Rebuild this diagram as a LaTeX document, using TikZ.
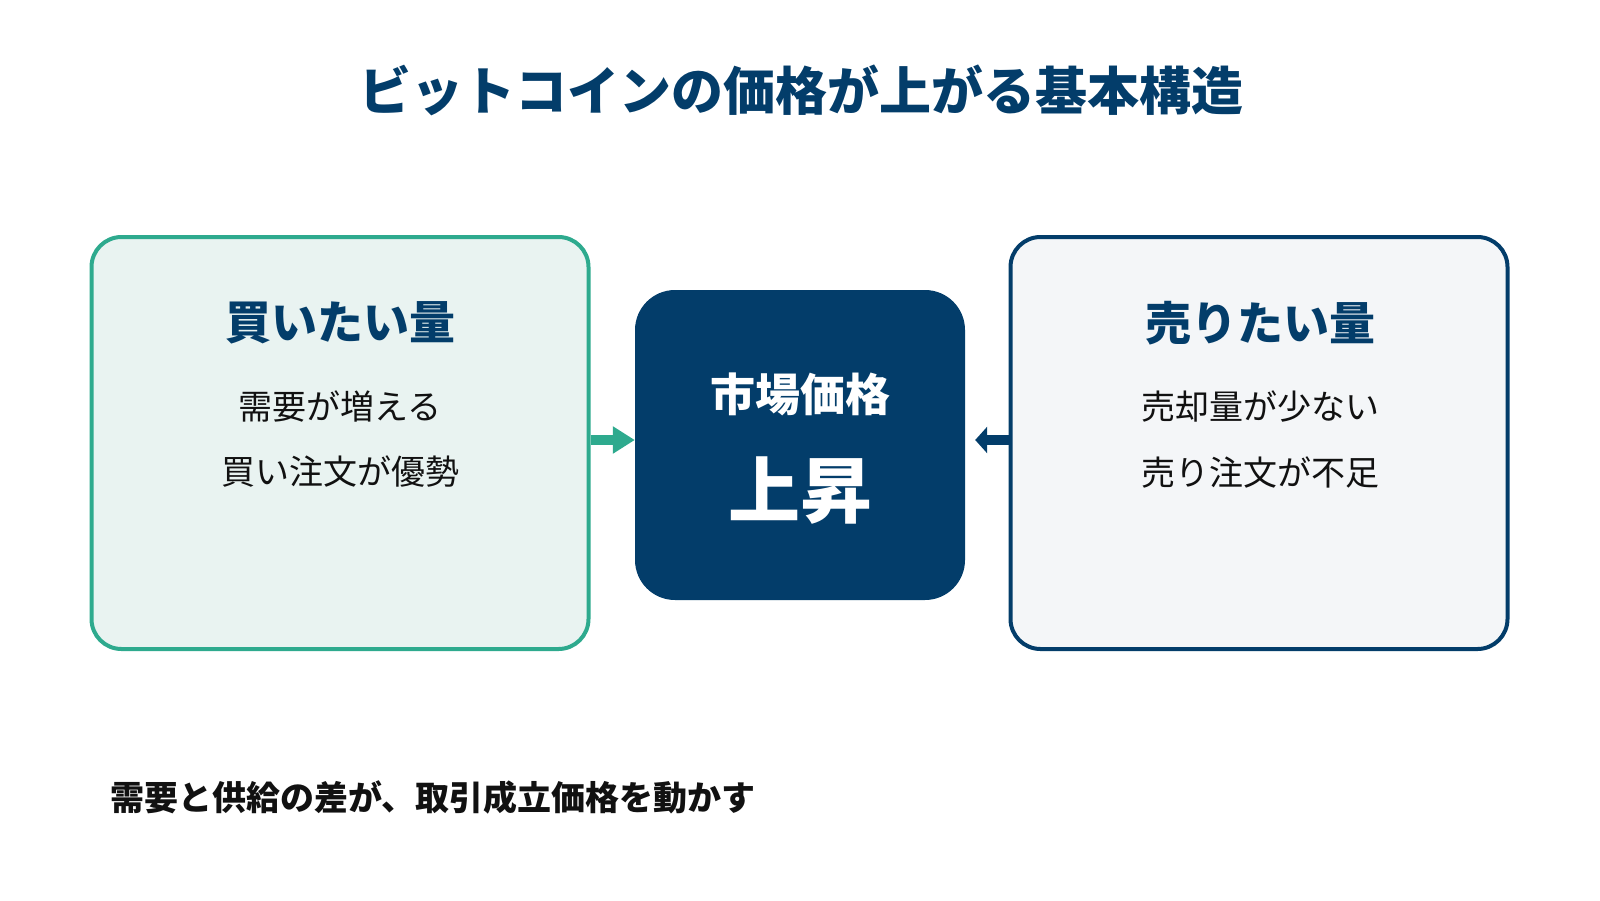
\documentclass[tikz,border=0pt]{standalone}
\usepackage{fontspec}
\setmainfont{Noto Sans CJK JP}
\usetikzlibrary{arrows.meta}

\definecolor{navy}{HTML}{033D6A}
\definecolor{teal}{HTML}{2EAA8E}
\definecolor{tealbg}{HTML}{E9F3F1}
\definecolor{greybg}{HTML}{F4F6F8}
\definecolor{ink}{HTML}{111111}

\newcommand{\fs}[1]{\fontsize{#1}{#1}\selectfont}

\tikzset{
  box/.style={rounded corners=30pt, line width=4pt, minimum width=497pt, minimum height=412pt},
  head/.style={font=\bfseries\fs{46}, text=navy},
  line/.style={font=\fs{34}, text=ink},
}

\begin{document}
\begin{tikzpicture}[x=1pt, y=-1pt, inner sep=0pt]
    \useasboundingbox (0, 0) rectangle (1600, 900);

    \node[font=\bfseries\fs{52}, text=navy] (title) at (801, 90) {ビットコインの価格が上がる基本構造};

    \node[box, draw=teal, fill=tealbg] (buy) at (340, 443) {};
    \node[box, draw=navy, fill=greybg] (sell) at (1259, 443) {};
    \node[fill=navy, rounded corners=40pt, minimum width=330pt, minimum height=310pt] (price) at (800, 445) {};

    \node[head] (buyhead) at (340, 323) {買いたい量};
    \node[line] (buy1) at (340, 407) {需要が増える};
    \node[line] (buy2) at (340, 472) {買い注文が優勢};

    \node[head] (sellhead) at (1260, 323) {売りたい量};
    \node[line] (sell1) at (1260, 407) {売却量が少ない};
    \node[line] (sell2) at (1260, 472) {売り注文が不足};

    \node[font=\bfseries\fs{45}, text=white] (pricehead) at (800, 394) {市場価格};
    \node[font=\bfseries\fs{72}, text=white] (up) at (800, 491) {上昇};

    \path[-{Triangle[length=22pt, width=26pt]}, line width=10pt, teal] (buy.east |- 0, 440) edge (price.west |- 0, 440);
    \path[-{Triangle[length=12pt, width=26pt]}, line width=10pt, navy, shorten >=10pt] (sell.west |- 0, 440) edge (price.east |- 0, 440);

    \node[font=\bfseries\fs{34}, text=ink, anchor=west] (note) at (110, 797) {需要と供給の差が、取引成立価格を動かす};
  \end{tikzpicture}
\end{document}
